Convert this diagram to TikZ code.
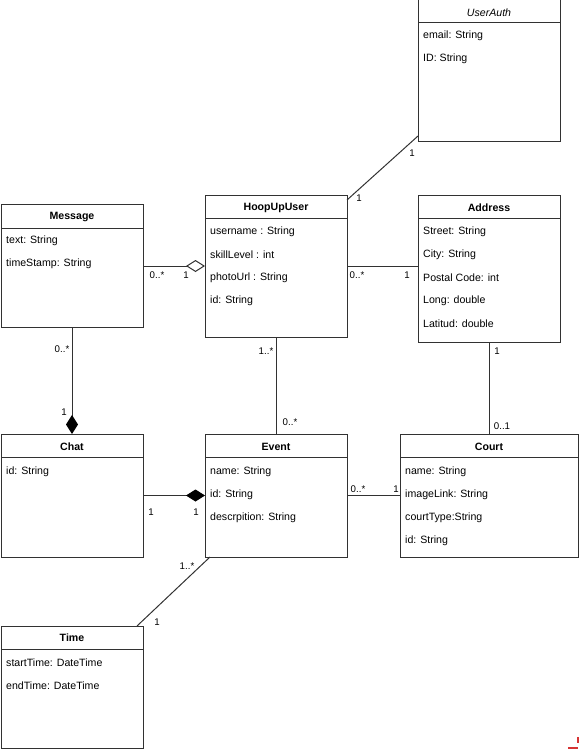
\documentclass[tikz,border=0pt]{standalone}
\usepackage{fontspec}
\setmainfont{Liberation Sans}
\usetikzlibrary{arrows.meta}
\definecolor{linec}{RGB}{50,50,50}
\definecolor{markred}{RGB}{214,52,52}
\tikzset{
  cls/.style={draw=linec, line width=1pt, fill=white, anchor=north west, inner sep=0pt, outer sep=0pt},
  hdr/.style={font=\fontsize{10.6}{12}\selectfont\bfseries, inner sep=0pt, yshift=-1.2pt},
  hdrit/.style={font=\fontsize{10.6}{12}\selectfont\itshape, inner sep=0pt, yshift=-1.2pt},
  attr/.style={font=\fontsize{10.6}{12}\selectfont, anchor=west, inner sep=0pt, yshift=-1.5pt},
  mult/.style={font=\fontsize{9.7}{11}\selectfont, inner sep=0pt, yshift=-1pt},
  assoc/.style={draw=linec, line width=1pt},
  sep/.style={draw=linec, line width=1pt},
}
\begin{document}
\begin{tikzpicture}[x=1pt,y=-1pt]
\useasboundingbox (0,0) rectangle (579,749);

% class boxes
\node[cls, minimum width=142pt, minimum height=141pt] (ua) at (418,0) {};
\node[cls, minimum width=142pt, minimum height=123pt] (msg) at (1,204) {};
\node[cls, minimum width=142pt, minimum height=142pt] (hu) at (205,195) {};
\node[cls, minimum width=142pt, minimum height=147pt] (addr) at (418,195) {};
\node[cls, minimum width=142pt, minimum height=123pt] (chat) at (1,434) {};
\node[cls, minimum width=142pt, minimum height=123pt] (ev) at (205,434) {};
\node[cls, minimum width=178pt, minimum height=123pt] (court) at (400,434) {};
\node[cls, minimum width=142pt, minimum height=122pt] (time) at (1,626) {};

% header separators
\draw[sep] ([yshift=-23pt]ua.north west) -- ([yshift=-23pt]ua.north east);
\draw[sep] ([yshift=-24pt]msg.north west) -- ([yshift=-24pt]msg.north east);
\draw[sep] ([yshift=-23pt]hu.north west) -- ([yshift=-23pt]hu.north east);
\draw[sep] ([yshift=-23pt]addr.north west) -- ([yshift=-23pt]addr.north east);
\draw[sep] ([yshift=-23pt]chat.north west) -- ([yshift=-23pt]chat.north east);
\draw[sep] ([yshift=-23pt]ev.north west) -- ([yshift=-23pt]ev.north east);
\draw[sep] ([yshift=-23pt]court.north west) -- ([yshift=-23pt]court.north east);
\draw[sep] ([yshift=-23pt]time.north west) -- ([yshift=-23pt]time.north east);

% headers
\node[hdrit] (uah) at (489,12) {UserAuth};
\node[hdr] (msgh) at (72,216) {Message};
\node[hdr] (huh) at (276,207) {HoopUpUser};
\node[hdr] (addrh) at (489,207) {Address};
\node[hdr] (chath) at (72,446) {Chat};
\node[hdr] (evh) at (276,446) {Event};
\node[hdr] (courth) at (489,446) {Court};
\node[hdr] (timeh) at (72,637) {Time};

% attributes
\node[attr] (ua1) at (423,34) {email: String};
\node[attr] (ua2) at (423,57) {ID: String};

\node[attr] (msg1) at (6,239) {text: String};
\node[attr] (msg2) at (6,262) {timeStamp: String};

\node[attr] (hu1) at (210,230) {username : String};
\node[attr] (hu2) at (210,253) {skillLevel : int};
\node[attr] (hu3) at (210,276) {photoUrl : String};
\node[attr] (hu4) at (210,299) {id: String};

\node[attr] (addr1) at (423,230) {Street: String};
\node[attr] (addr2) at (423,253) {City: String};
\node[attr] (addr3) at (423,276) {Postal Code: int};
\node[attr] (addr4) at (423,299) {Long: double};
\node[attr] (addr5) at (423,322) {Latitud: double};

\node[attr] (chat1) at (6,470) {id: String};

\node[attr] (ev1) at (210,470) {name: String};
\node[attr] (ev2) at (210,493) {id: String};
\node[attr] (ev3) at (210,516) {descrpition: String};

\node[attr] (court1) at (405,470) {name: String};
\node[attr] (court2) at (405,493) {imageLink: String};
\node[attr] (court3) at (405,516) {courtType:String};
\node[attr] (court4) at (405,539) {id: String};

\node[attr] (time1) at (6,661) {startTime: DateTime};
\node[attr] (time2) at (6,684) {endTime: DateTime};

% connectors
\draw[assoc] ([yshift=5pt]ua.south west) -- ([yshift=-5pt]hu.north east);
\draw[assoc, -{Diamond[open, length=19pt, width=12pt, line width=1pt]}] (msg.east |- hu.west) -- (hu.west);
\draw[assoc] (hu.east) -- (hu.east -| addr.west);
\draw[assoc, -{Diamond[length=19pt, width=12pt, fill=black, color=black]}] (msg.south) -- (chat.north);
\draw[assoc] (hu.south) -- (ev.north);
\draw[assoc] (addr.south) -- (court.north);
\draw[assoc, -{Diamond[length=19pt, width=12pt, fill=black, color=black]}] (chat.east) -- (ev.west);
\draw[assoc] (ev.east) -- (ev.east -| court.west);
\draw[assoc] ([xshift=5pt]ev.south west) -- ([xshift=-6pt]time.north east);

% multiplicities
\node[mult] (m1) at (412,152) {1};
\node[mult] (m2) at (359,197) {1};
\node[mult] (m3) at (157,274) {0..*};
\node[mult] (m4) at (186,274) {1};
\node[mult] (m5) at (357,274) {0..*};
\node[mult] (m6) at (407,274) {1};
\node[mult] (m7) at (62,348) {0..*};
\node[mult] (m8) at (64,411) {1};
\node[mult] (m9) at (266,350) {1..*};
\node[mult] (m10) at (290,421) {0..*};
\node[mult] (m11) at (497,350) {1};
\node[mult] (m12) at (502,425) {0..1};
\node[mult] (m13) at (151,511) {1};
\node[mult] (m14) at (196,511) {1};
\node[mult] (m15) at (358,488) {0..*};
\node[mult] (m16) at (396,488) {1};
\node[mult] (m17) at (187,565) {1..*};
\node[mult] (m18) at (157,621) {1};

% red corner mark
\draw[markred, line width=2pt] (578,737) -- (578,743);
\draw[markred, line width=2pt] (568,748) -- (578,748);
\end{tikzpicture}
\end{document}
